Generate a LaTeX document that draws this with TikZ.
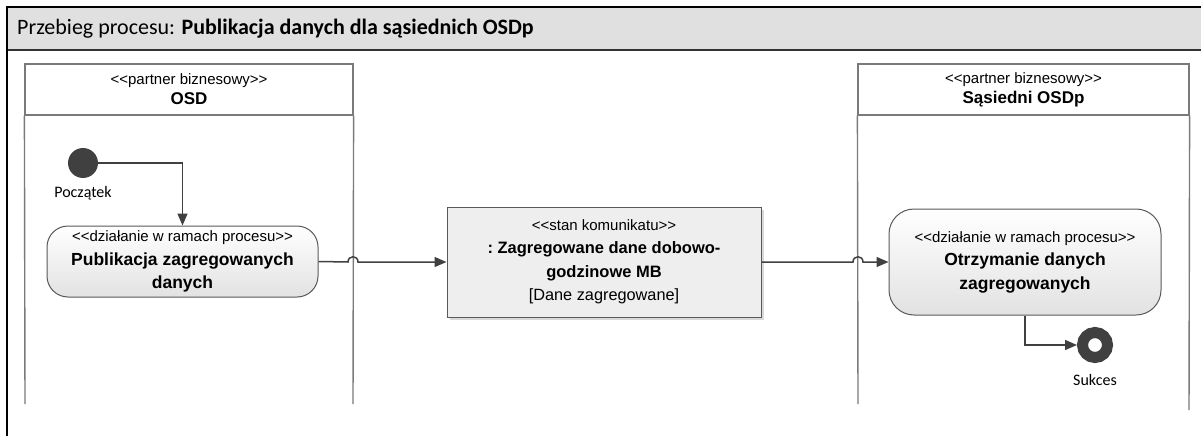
\documentclass[tikz,border=0pt]{standalone}
\usepackage{fontspec}
\setmainfont{Carlito}
\newfontfamily\arialf[Ligatures=TeXOff]{Liberation Sans}
\usetikzlibrary{arrows.meta,shadows}
\definecolor{titlegray}{HTML}{E0E0E0}
\definecolor{lanegray}{HTML}{7A7A7A}
\definecolor{flowgray}{HTML}{404040}
\definecolor{boxedge}{HTML}{595959}
\definecolor{msgfill}{HTML}{EEEEEE}
\definecolor{actbot}{HTML}{E2E2E2}
\newcommand{\stereo}{\frenchspacing\arialf\fontsize{15}{23.5}\selectfont}
\newcommand{\lanestereo}{\frenchspacing\arialf\fontsize{15}{20}\selectfont}
\newcommand{\arb}{\arialf\bfseries\fontsize{17}{20}\selectfont}
\newcommand{\arbm}{\arialf\bfseries\fontsize{16.5}{23.5}\selectfont}
\newcommand{\calb}{\bfseries\fontsize{17.5}{23.5}\selectfont}
\newcommand{\calr}{\fontsize{16.3}{23.5}\selectfont}
\tikzset{
  frameline/.style={draw=black,line width=1.8pt},
  laneline/.style={draw=lanegray,line width=1.4pt},
  lanehead/.style={draw=lanegray,line width=1.2pt,fill=white,minimum height=51pt,inner sep=0pt,align=center,font=\lanestereo},
  action/.style={draw=boxedge,line width=1pt,rounded corners=21pt,top color=white,bottom color=actbot,inner sep=0pt,align=center,font=\stereo},
  msgbox/.style={draw=boxedge,line width=1pt,fill=msgfill,inner sep=0pt,align=center,font=\stereo,
     drop shadow={shadow xshift=3pt,shadow yshift=-3pt,opacity=0.3,fill=black!50}},
  startnode/.style={circle,fill=flowgray,minimum size=30pt,inner sep=0pt},
  endnode/.style={circle,draw=flowgray,line width=11pt,fill=white,minimum size=25pt,inner sep=0pt},
  smalltext/.style={font=\fontsize{16}{18}\selectfont,inner sep=0pt},
  flow/.style={draw=flowgray,line width=1.5pt,-{Triangle[length=12pt,width=10pt]}}
}
\begin{document}
\begin{tikzpicture}[x=1pt,y=-1pt]
\useasboundingbox (0,0) rectangle (1201,436);
% title bar and frame
\fill[titlegray] (7,7) rectangle (1201,50);
\draw[draw=black!80,line width=1.2pt] (7,50) -- (1201,50);
\draw[frameline] (1201,7) -- (7,7) -- (7,436);
\node[anchor=west,inner sep=0pt,font=\fontsize{22}{26}\selectfont] (title) at (17,29)
  {Przebieg procesu: \textbf{Publikacja danych dla sąsiednich OSDp}};
% lanes
\node[lanehead,minimum width=328pt] (osdh) at (189,89.5) {<<partner biznesowy>>\\{\arb OSD}};
\node[lanehead,minimum width=331pt] (sosdh) at (1023.5,89.5) {<<partner biznesowy>>\\{\arb Sąsiedni OSDp}};
\coordinate (l1b) at (25,404);
\coordinate (l2b) at (353,404);
\coordinate (l3b) at (858,404);
\coordinate (l4b) at (1189,410);
\draw[laneline] (osdh.south west) -- (l1b);
\draw[laneline] (osdh.south east) -- (l2b);
\draw[laneline] (sosdh.south west) -- (l3b);
\draw[laneline] (sosdh.south east) -- (l4b);
% start
\node[startnode] (start) at (83,163) {};
\node[smalltext] (startlbl) at (83,193) {Początek};
% actions
\node[action,minimum width=271pt,minimum height=71pt] (pub) at (182.5,261.5)
  {<<działanie w ramach procesu>>\\{\calb Publikacja zagregowanych}\\{\calb danych}};
\node[msgbox,minimum width=314pt,minimum height=110pt] (msg) at (604,262)
  {<<stan komunikatu>>\\{\arbm : Zagregowane dane dobowo-}\\{\arbm godzinowe MB}\\{\calr [Dane zagregowane]}};
\node[action,minimum width=272pt,minimum height=106pt,rounded corners=25pt] (rec) at (1025,262)
  {<<działanie w ramach procesu>>\\{\calb Otrzymanie danych}\\{\calb zagregowanych}};
% end
\node[endnode] (end) at (1095,345) {};
\node[smalltext] (endlbl) at (1095,380) {Sukces};
% connectors
\draw[flow] (start.east) -| (pub.north);
\coordinate (j1) at (353,262);
\coordinate (j2) at (858,262);
\draw[flow] (pub.east) -- ([xshift=-5pt]j1) .. controls ([xshift=-5pt,yshift=7pt]j1) and ([xshift=5pt,yshift=7pt]j1) .. ([xshift=5pt]j1) -- (msg.west);
\draw[flow] (msg.east) -- ([xshift=-5pt]j2) .. controls ([xshift=-5pt,yshift=7pt]j2) and ([xshift=5pt,yshift=7pt]j2) .. ([xshift=5pt]j2) -- (rec.west);
\draw[flow] (rec.south) |- (end.west);
\end{tikzpicture}
\end{document}
